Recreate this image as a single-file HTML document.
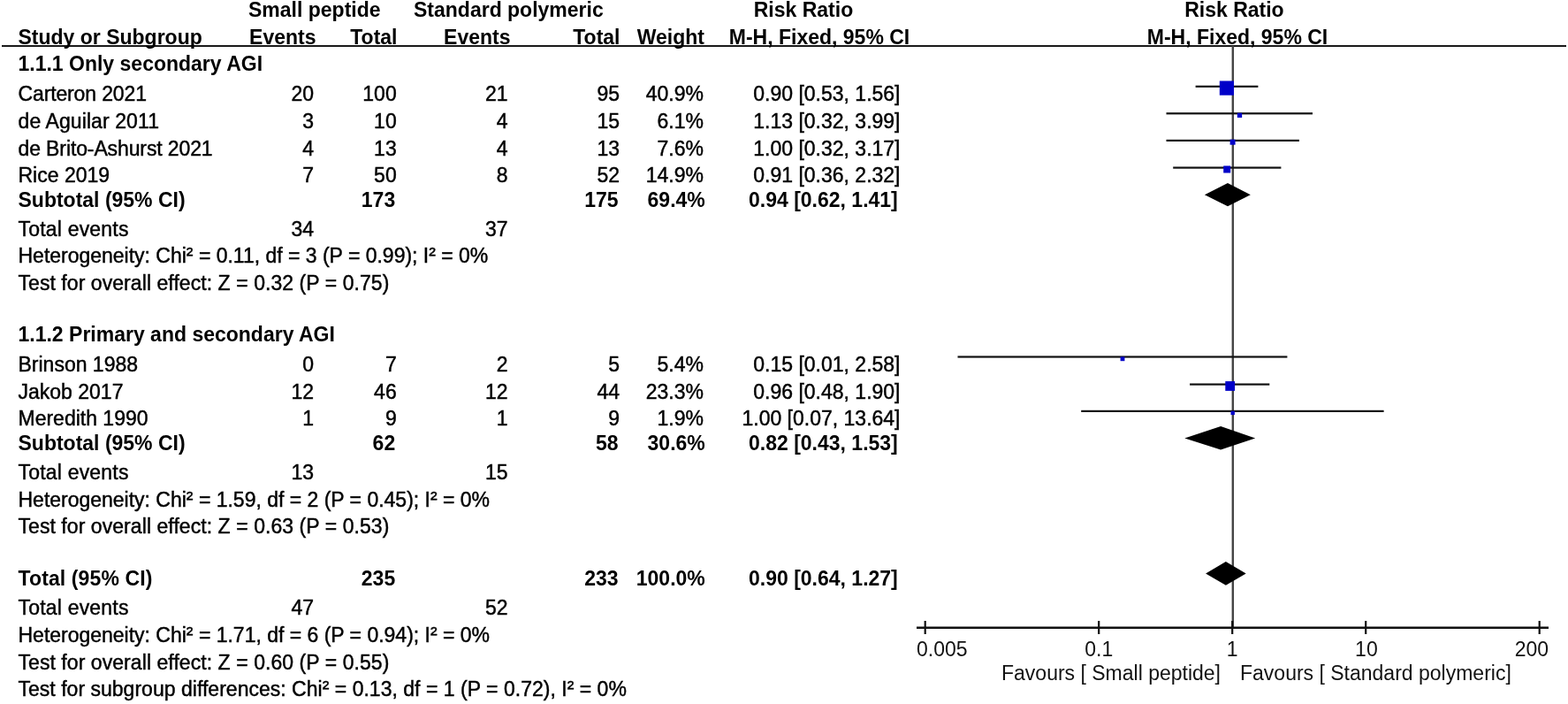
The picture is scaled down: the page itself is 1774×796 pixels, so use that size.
<!DOCTYPE html>
<html><head><meta charset="utf-8"><style>
html,body{margin:0;padding:0;background:#fff;width:1774px;height:796px;overflow:hidden;}
svg{display:block;}
text{font-family:"Liberation Sans",Arial,sans-serif;font-size:23px;fill:#000;stroke:#000;stroke-width:0.45px;}
text.b{font-weight:bold;stroke:none;}
text.lt{stroke:none;fill:#111;}
</style></head><body>
<svg width="1774" height="796" viewBox="0 0 1774 796">
<rect x="2" y="51" width="1770" height="2" fill="#1a1a1a"/>
<rect x="1393.6" y="52" width="2.4" height="657" fill="#444"/>
<rect x="1037" y="708.5" width="715" height="2.5" fill="#111"/>
<rect x="1045.6" y="702" width="2.2" height="15" fill="#111"/>
<rect x="1242.1" y="702" width="2.2" height="15" fill="#111"/>
<rect x="1393.1" y="702" width="2.2" height="15" fill="#111"/>
<rect x="1544.1" y="702" width="2.2" height="15" fill="#111"/>
<rect x="1740.6" y="702" width="2.2" height="15" fill="#111"/>
<rect x="1352.6" y="96.7" width="70.8" height="2.2" fill="#111"/>
<rect x="1379.80" y="91.50" width="16.2" height="16.2" fill="#0000c8"/>
<rect x="1319.5" y="127.2" width="165.5" height="2.2" fill="#111"/>
<rect x="1399.85" y="127.75" width="5.3" height="5.3" fill="#0000c8"/>
<rect x="1319.5" y="157.8" width="150.4" height="2.2" fill="#111"/>
<rect x="1391.60" y="157.70" width="6" height="6" fill="#0000c8"/>
<rect x="1327.2" y="188.5" width="122.2" height="2.2" fill="#111"/>
<rect x="1384.20" y="187.50" width="8" height="8" fill="#0000c8"/>
<rect x="1083.5" y="402.4" width="372.9" height="2.2" fill="#111"/>
<rect x="1267.60" y="403.40" width="4.8" height="4.8" fill="#0000c8"/>
<rect x="1346.1" y="433.5" width="90.2" height="2.2" fill="#111"/>
<rect x="1386.30" y="431.10" width="10.8" height="10.8" fill="#0000c8"/>
<rect x="1223.2" y="463.8" width="342.4" height="2.2" fill="#111"/>
<rect x="1392.50" y="464.70" width="4.4" height="4.4" fill="#0000c8"/>
<polygon points="1362.9,220.2 1389.0,207.1 1414.8,220.2 1389.0,233.3" fill="#000"/>
<polygon points="1340.3,495.5 1381.1,482.0 1420.2,495.5 1381.1,508.5" fill="#000"/>
<polygon points="1364.1,648.6 1386.9,635.1 1409.7,648.6 1386.9,661.8" fill="#000"/>
<text class="b" x="281" y="19.2">Small peptide</text>
<text class="b" x="468" y="19.2">Standard polymeric</text>
<text class="b" x="909" y="19.2" text-anchor="middle">Risk Ratio</text>
<text class="b" x="1396.4" y="19.2" text-anchor="middle">Risk Ratio</text>
<text class="b" x="20.5" y="49.6">Study or Subgroup</text>
<text class="b" x="357.5" y="49.6" text-anchor="end">Events</text>
<text class="b" x="449.5" y="49.6" text-anchor="end">Total</text>
<text class="b" x="577.5" y="49.6" text-anchor="end">Events</text>
<text class="b" x="701.5" y="49.6" text-anchor="end">Total</text>
<text class="b" x="797" y="49.6" text-anchor="end">Weight</text>
<text class="b" x="927" y="49.6" text-anchor="middle">M-H, Fixed, 95% CI</text>
<text class="b" x="1400" y="49.6" text-anchor="middle">M-H, Fixed, 95% CI</text>
<text class="b" x="20.5" y="80.4">1.1.1 Only secondary AGI</text>
<text x="20.5" y="114.4" textLength="145.45" lengthAdjust="spacing">Carteron 2021</text>
<text x="355.1" y="114.4" text-anchor="end">20</text>
<text x="448.7" y="114.4" text-anchor="end">100</text>
<text x="574.6" y="114.4" text-anchor="end">21</text>
<text x="701" y="114.4" text-anchor="end">95</text>
<text x="796" y="114.4" text-anchor="end">40.9%</text>
<text x="1018.5" y="114.4" text-anchor="end">0.90 [0.53, 1.56]</text>
<text x="20.5" y="145.3" textLength="159.46" lengthAdjust="spacing">de Aguilar 2011</text>
<text x="355.1" y="145.3" text-anchor="end">3</text>
<text x="448.7" y="145.3" text-anchor="end">10</text>
<text x="574.6" y="145.3" text-anchor="end">4</text>
<text x="701" y="145.3" text-anchor="end">15</text>
<text x="796" y="145.3" text-anchor="end">6.1%</text>
<text x="1018.5" y="145.3" text-anchor="end">1.13 [0.32, 3.99]</text>
<text x="20.5" y="175.7" textLength="220.15" lengthAdjust="spacing">de Brito-Ashurst 2021</text>
<text x="355.1" y="175.7" text-anchor="end">4</text>
<text x="448.7" y="175.7" text-anchor="end">13</text>
<text x="574.6" y="175.7" text-anchor="end">4</text>
<text x="701" y="175.7" text-anchor="end">13</text>
<text x="796" y="175.7" text-anchor="end">7.6%</text>
<text x="1018.5" y="175.7" text-anchor="end">1.00 [0.32, 3.17]</text>
<text x="20.5" y="205.7">Rice 2019</text>
<text x="355.1" y="205.7" text-anchor="end">7</text>
<text x="448.7" y="205.7" text-anchor="end">50</text>
<text x="574.6" y="205.7" text-anchor="end">8</text>
<text x="701" y="205.7" text-anchor="end">52</text>
<text x="796" y="205.7" text-anchor="end">14.9%</text>
<text x="1018.5" y="205.7" text-anchor="end">0.91 [0.36, 2.32]</text>
<text class="b" x="20.5" y="233.6">Subtotal (95% CI)</text>
<text class="b" x="447.2" y="233.6" text-anchor="end">173</text>
<text class="b" x="699.6" y="233.6" text-anchor="end">175</text>
<text class="b" x="797.8" y="233.6" text-anchor="end">69.4%</text>
<text class="b" x="1015.8" y="233.6" text-anchor="end">0.94 [0.62, 1.41]</text>
<text x="20.5" y="266.6" textLength="124.95" lengthAdjust="spacing">Total events</text>
<text x="355.1" y="266.6" text-anchor="end">34</text>
<text x="574.6" y="266.6" text-anchor="end">37</text>
<text x="20.5" y="297.4" textLength="531.78" lengthAdjust="spacing">Heterogeneity: Chi<tspan baseline-shift="1.8">²</tspan> = 0.11, df = 3 (P = 0.99); I<tspan baseline-shift="1.8">²</tspan> = 0%</text>
<text x="20.5" y="327.7" textLength="419.90" lengthAdjust="spacing">Test for overall effect: Z = 0.32 (P = 0.75)</text>
<text class="b" x="20.5" y="386.3">1.1.2 Primary and secondary AGI</text>
<text x="20.5" y="420.3">Brinson 1988</text>
<text x="355.1" y="420.3" text-anchor="end">0</text>
<text x="448.7" y="420.3" text-anchor="end">7</text>
<text x="574.6" y="420.3" text-anchor="end">2</text>
<text x="701" y="420.3" text-anchor="end">5</text>
<text x="796" y="420.3" text-anchor="end">5.4%</text>
<text x="1018.5" y="420.3" text-anchor="end">0.15 [0.01, 2.58]</text>
<text x="20.5" y="450.8">Jakob 2017</text>
<text x="355.1" y="450.8" text-anchor="end">12</text>
<text x="448.7" y="450.8" text-anchor="end">46</text>
<text x="574.6" y="450.8" text-anchor="end">12</text>
<text x="701" y="450.8" text-anchor="end">44</text>
<text x="796" y="450.8" text-anchor="end">23.3%</text>
<text x="1018.5" y="450.8" text-anchor="end">0.96 [0.48, 1.90]</text>
<text x="20.5" y="480.7">Meredith 1990</text>
<text x="355.1" y="480.7" text-anchor="end">1</text>
<text x="448.7" y="480.7" text-anchor="end">9</text>
<text x="574.6" y="480.7" text-anchor="end">1</text>
<text x="701" y="480.7" text-anchor="end">9</text>
<text x="796" y="480.7" text-anchor="end">1.9%</text>
<text x="1018.5" y="480.7" text-anchor="end">1.00 [0.07, 13.64]</text>
<text class="b" x="20.5" y="509.1">Subtotal (95% CI)</text>
<text class="b" x="447.2" y="509.1" text-anchor="end">62</text>
<text class="b" x="699.6" y="509.1" text-anchor="end">58</text>
<text class="b" x="797.8" y="509.1" text-anchor="end">30.6%</text>
<text class="b" x="1015.8" y="509.1" text-anchor="end">0.82 [0.43, 1.53]</text>
<text x="20.5" y="541.9" textLength="124.95" lengthAdjust="spacing">Total events</text>
<text x="355.1" y="541.9" text-anchor="end">13</text>
<text x="574.6" y="541.9" text-anchor="end">15</text>
<text x="20.5" y="573.0" textLength="533.50" lengthAdjust="spacing">Heterogeneity: Chi<tspan baseline-shift="1.8">²</tspan> = 1.59, df = 2 (P = 0.45); I<tspan baseline-shift="1.8">²</tspan> = 0%</text>
<text x="20.5" y="603.4" textLength="419.90" lengthAdjust="spacing">Test for overall effect: Z = 0.63 (P = 0.53)</text>
<text class="b" x="20.5" y="662.1" textLength="151.88" lengthAdjust="spacing">Total (95% CI)</text>
<text class="b" x="447.2" y="662.1" text-anchor="end">235</text>
<text class="b" x="699.6" y="662.1" text-anchor="end">233</text>
<text class="b" x="797.8" y="662.1" text-anchor="end">100.0%</text>
<text class="b" x="1015.8" y="662.1" text-anchor="end">0.90 [0.64, 1.27]</text>
<text x="20.5" y="695.2" textLength="124.95" lengthAdjust="spacing">Total events</text>
<text x="355.1" y="695.2" text-anchor="end">47</text>
<text x="574.6" y="695.2" text-anchor="end">52</text>
<text x="20.5" y="726.1" textLength="533.50" lengthAdjust="spacing">Heterogeneity: Chi<tspan baseline-shift="1.8">²</tspan> = 1.71, df = 6 (P = 0.94); I<tspan baseline-shift="1.8">²</tspan> = 0%</text>
<text x="20.5" y="756.5" textLength="419.90" lengthAdjust="spacing">Test for overall effect: Z = 0.60 (P = 0.55)</text>
<text x="20.5" y="786.7" textLength="688.38" lengthAdjust="spacing">Test for subgroup differences: Chi<tspan baseline-shift="1.8">²</tspan> = 0.13, df = 1 (P = 0.72), I<tspan baseline-shift="1.8">²</tspan> = 0%</text>
<text x="1037" y="741.8" class="lt">0.005</text>
<text x="1243.2" y="741.8" text-anchor="middle" class="lt">0.1</text>
<text x="1394.2" y="741.8" text-anchor="middle" class="lt">1</text>
<text x="1545.9" y="741.8" text-anchor="middle" class="lt">10</text>
<text x="1752" y="741.8" text-anchor="end" class="lt">200</text>
<text x="1133" y="769.2" class="lt">Favours [ Small peptide]</text>
<text x="1403" y="769.2" class="lt">Favours [ Standard polymeric]</text>
</svg>
</body></html>
